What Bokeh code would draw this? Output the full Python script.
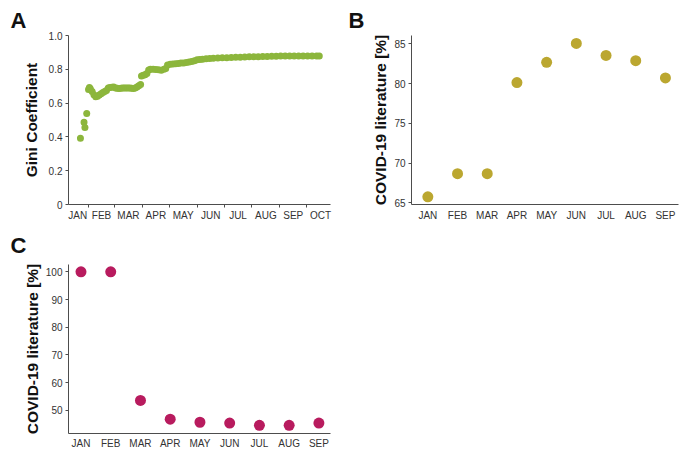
from bokeh.plotting import figure
from bokeh.models import Range1d, FixedTicker
from bokeh.layouts import row, column
from bokeh.embed import file_html
from bokeh.resources import INLINE

# ---------------- data ----------------
# Panel A: Gini coefficient by day of year 2020 (Jan 1 = 0)
gini_day = [22, 26, 27, 29, 31, 32, 33, 35, 37, 39, 41, 43, 45, 47, 49, 51, 53, 55, 57, 59,
            61, 63, 65, 67, 69, 71, 73, 75, 77, 79, 81, 83, 85, 87, 89, 90, 92, 94, 96, 98,
            100, 103, 106, 109, 112, 115, 117, 119, 122, 125, 128, 131, 134, 137, 140, 143,
            146, 149, 152, 155, 158, 162, 166, 170, 175, 180, 185, 190, 195, 200, 205, 210,
            215, 220, 225, 230, 235, 240, 245, 250, 255, 260, 265, 270, 275, 280, 285, 288]
gini_val = [0.392, 0.486, 0.455, 0.539, 0.680, 0.692, 0.685, 0.668, 0.650, 0.637, 0.640, 0.648,
            0.655, 0.663, 0.668, 0.675, 0.690, 0.693, 0.694, 0.696, 0.690, 0.688, 0.686, 0.688,
            0.690, 0.689, 0.690, 0.690, 0.689, 0.688, 0.687, 0.690, 0.696, 0.703, 0.710, 0.760,
            0.765, 0.768, 0.775, 0.796, 0.800, 0.800, 0.799, 0.797, 0.795, 0.800, 0.805, 0.826,
            0.830, 0.831, 0.833, 0.835, 0.837, 0.838, 0.840, 0.843, 0.846, 0.850, 0.856, 0.858,
            0.860, 0.862, 0.864, 0.865, 0.867, 0.868, 0.869, 0.870, 0.871, 0.872, 0.873, 0.874,
            0.875, 0.875, 0.876, 0.876, 0.877, 0.877, 0.878, 0.878, 0.878, 0.878, 0.878, 0.878,
            0.878, 0.878, 0.878, 0.878]
a_month_labels = ["JAN", "FEB", "MAR", "APR", "MAY", "JUN", "JUL", "AUG", "SEP", "OCT"]
a_month_starts = [31, 60, 91, 121, 152, 182, 213, 244, 274]
a_label_pos = [19, 45.5, 75.5, 106, 136.5, 167, 197.5, 228.5, 259, 289.5]
a_yticks = [0, 0.2, 0.4, 0.6, 0.8, 1.0]
a_ytick_labels = ["0", "0.2", "0.4", "0.6", "0.8", "1.0"]

# Panels B and C
months = ["JAN", "FEB", "MAR", "APR", "MAY", "JUN", "JUL", "AUG", "SEP"]
b_values = [65.75, 68.67, 68.67, 80.12, 82.67, 85.04, 83.54, 82.87, 80.71]
c_values = [100.0, 100.0, 53.6, 46.8, 45.7, 45.4, 44.6, 44.6, 45.4]
b_yticks = [65, 70, 75, 80, 85]
c_yticks = [50, 60, 70, 80, 90, 100]

GREEN = "#8cb63c"
OLIVE = "#bba730"
MAGENTA = "#b81b5e"
FONT = "Liberation Sans"
AXIS_COLOR = "#4d4d4d"
TICK_TEXT = "#333333"


def base_style(p, letter, letter_offset, letter_standoff):
    p.xgrid.visible = False
    p.ygrid.visible = False
    p.outline_line_color = None
    p.background_fill_color = "white"
    p.border_fill_color = "white"
    for ax in (p.xaxis[0], p.yaxis[0]):
        ax.axis_line_color = AXIS_COLOR
        ax.axis_line_width = 1
        ax.major_label_text_font = FONT
        ax.major_label_text_font_size = "10px"
        ax.major_label_text_color = TICK_TEXT
        ax.major_tick_line_color = AXIS_COLOR
        ax.major_tick_in = 0
        ax.major_tick_out = 3
        ax.minor_tick_line_color = None
        ax.axis_label_text_font = FONT
        ax.axis_label_text_font_size = "15.5px"
        ax.axis_label_text_font_style = "bold"
        ax.axis_label_text_color = "#111111"
    p.yaxis[0].major_label_standoff = 3
    p.title.text = letter
    p.title.align = "left"
    p.title.offset = letter_offset
    p.title.standoff = letter_standoff
    p.title.text_font = FONT
    p.title.text_font_size = "22px"
    p.title.text_font_style = "bold"
    p.title.text_color = "#111111"


# ---------------- Panel A ----------------
pA = figure(width=338, height=223, x_range=Range1d(8.7, 300.5), y_range=Range1d(0, 1.0),
            output_backend="svg", toolbar_location=None,
            min_border_left=68, min_border_right=8, min_border_top=35, min_border_bottom=18)
base_style(pA, "A", -58, 6)
pA.scatter(gini_day, gini_val, size=7, color=GREEN, line_color=None)
pA.xaxis[0].ticker = FixedTicker(ticks=a_label_pos, minor_ticks=a_month_starts)
pA.xaxis[0].major_label_overrides = {p: l for p, l in zip(a_label_pos, a_month_labels)}
pA.xaxis[0].major_tick_line_color = None
pA.xaxis[0].major_tick_out = 3
pA.xaxis[0].minor_tick_line_color = AXIS_COLOR
pA.xaxis[0].minor_tick_out = 3
pA.xaxis[0].minor_tick_in = 0
pA.xaxis[0].major_label_standoff = 2
pA.yaxis[0].ticker = FixedTicker(ticks=a_yticks)
pA.yaxis[0].major_label_overrides = {t: l for t, l in zip(a_yticks, a_ytick_labels)}
pA.yaxis[0].axis_label = "Gini Coefficient"
pA.yaxis[0].axis_label_standoff = 6

# ---------------- Panel B ----------------
xs = list(range(len(months)))
pB = figure(width=348, height=223, x_range=Range1d(-0.55, 8.44), y_range=Range1d(64.79, 86.04),
            output_backend="svg", toolbar_location=None,
            min_border_left=73, min_border_right=8, min_border_top=35, min_border_bottom=18)
base_style(pB, "B", -63, 6)
pB.scatter(xs, b_values, size=11, color=OLIVE, line_color=None)
pB.xaxis[0].ticker = FixedTicker(ticks=xs)
pB.xaxis[0].major_label_overrides = {i: m for i, m in enumerate(months)}
pB.xaxis[0].major_tick_line_color = None
pB.xaxis[0].major_tick_out = 0
pB.xaxis[0].major_label_standoff = 5
pB.yaxis[0].ticker = FixedTicker(ticks=b_yticks)
pB.yaxis[0].axis_label = "COVID-19 literature [%]"
pB.yaxis[0].axis_label_standoff = 2

# ---------------- Panel C ----------------
pC = figure(width=338, height=232, x_range=Range1d(-0.42, 8.39), y_range=Range1d(41.64, 102.66),
            output_backend="svg", toolbar_location=None,
            min_border_left=68, min_border_right=8, min_border_top=40, min_border_bottom=22)
base_style(pC, "C", -58, 14)
pC.scatter(xs, c_values, size=11, color=MAGENTA, line_color=None)
pC.xaxis[0].ticker = FixedTicker(ticks=xs)
pC.xaxis[0].major_label_overrides = {i: m for i, m in enumerate(months)}
pC.xaxis[0].major_tick_line_color = None
pC.xaxis[0].major_tick_out = 0
pC.xaxis[0].major_label_standoff = 4
pC.yaxis[0].ticker = FixedTicker(ticks=c_yticks)
pC.yaxis[0].axis_label = "COVID-19 literature [%]"
pC.yaxis[0].axis_label_standoff = 2

layout = column(row(pA, pB), pC)
open("out.html", "w").write(file_html(layout, INLINE))
